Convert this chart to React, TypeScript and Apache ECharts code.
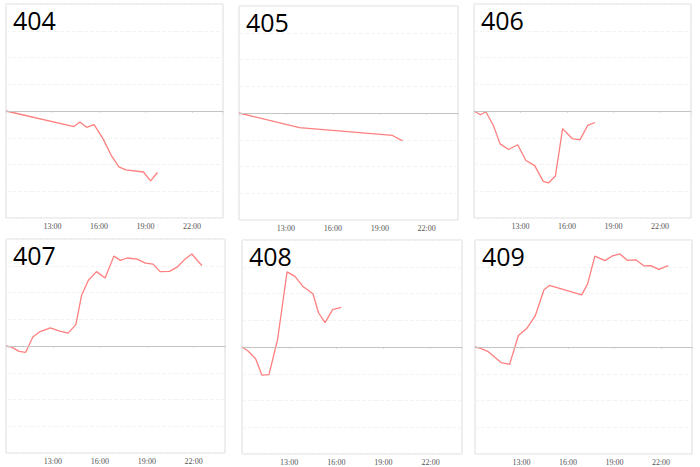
import React, { useEffect, useRef } from "react";
import * as echarts from "echarts";

const panelNames = ["404", "405", "406", "407", "408", "409"];

const times404 = ["10:00", "14:23", "14:46", "15:12", "15:41", "16:17", "16:49", "17:17", "17:44", "18:52", "19:20", "19:46"];
const values404 = [0, -0.58, -0.41, -0.61, -0.51, -1.06, -1.69, -2.09, -2.2, -2.28, -2.61, -2.3];

const times405 = ["10:00", "13:52", "19:49", "20:27"];
const values405 = [0, -0.55, -0.84, -1.04];

const times406 = ["10:00", "10:25", "10:46", "11:15", "11:41", "12:14", "12:49", "13:21", "13:55", "14:28", "14:48", "15:15", "15:43", "16:20", "16:50", "17:20", "17:49"];
const values406 = [0, -0.14, -0.03, -0.54, -1.23, -1.44, -1.26, -1.85, -2.04, -2.63, -2.69, -2.43, -0.66, -1.03, -1.08, -0.54, -0.43];

const times407 = ["10:00", "10:22", "10:50", "11:15", "11:43", "12:11", "12:50", "13:26", "13:58", "14:28", "14:50", "15:16", "15:47", "16:20", "16:54", "17:19", "17:44", "18:23", "18:55", "19:24", "19:51", "20:27", "20:58", "21:26", "21:53", "22:31"];
const values407 = [0, -0.04, -0.2, -0.24, 0.34, 0.54, 0.68, 0.56, 0.48, 0.8, 1.9, 2.46, 2.78, 2.54, 3.36, 3.2, 3.29, 3.25, 3.1, 3.06, 2.78, 2.79, 2.96, 3.24, 3.44, 3.01];

const times408 = ["10:00", "10:23", "10:52", "11:16", "11:43", "12:16", "12:52", "13:22", "13:55", "14:31", "14:52", "15:17", "15:46", "16:19"];
const values408 = [0, -0.15, -0.44, -1.05, -1.03, 0.29, 2.81, 2.64, 2.24, 1.99, 1.28, 0.91, 1.4, 1.48];

const times409 = ["10:00", "10:22", "10:49", "11:41", "12:14", "12:48", "13:20", "13:53", "14:27", "14:48", "16:53", "17:16", "17:44", "18:23", "18:53", "19:21", "19:49", "20:22", "20:55", "21:21", "21:51", "22:28"];
const values409 = [0, -0.05, -0.16, -0.58, -0.65, 0.43, 0.69, 1.16, 2.14, 2.3, 1.95, 2.36, 3.4, 3.23, 3.41, 3.48, 3.24, 3.26, 3.03, 3.04, 2.9, 3.04];

const xTickHours = [10, 13, 16, 19, 22];

const panelTimes = [times404, times405, times406, times407, times408, times409];
const panelValues = [values404, values405, values406, values407, values408, values409];

const grids = [
  { left: 6, top: 4, width: 217, height: 214 },
  { left: 239, top: 6, width: 219, height: 214 },
  { left: 474, top: 4, width: 217, height: 214 },
  { left: 6, top: 239, width: 219, height: 214 },
  { left: 242, top: 240, width: 220, height: 214 },
  { left: 475, top: 240, width: 217, height: 214 },
];

const toHours = (t: string) => {
  const [h, m] = t.split(":").map(Number);
  return h + m / 60;
};

export default function App() {
  const ref = useRef<HTMLDivElement>(null);
  useEffect(() => {
    if (!ref.current) return;
    const chart = echarts.init(ref.current, null, { renderer: "svg" });
    const option: any = {
      animation: false,
      backgroundColor: "#fff",
      title: grids.map((g, i) => ({
        text: panelNames[i],
        left: g.left + 7,
        top: g.top + 3,
        padding: 0,
        textStyle: { fontSize: 25, fontWeight: "normal", color: "#000", fontFamily: "Open Sans" },
      })),
      grid: grids.map((g) => ({
        ...g,
        show: true,
        borderColor: "#dcdcdc",
        borderWidth: 1,
        backgroundColor: "#fff",
      })),
      xAxis: grids.map((_, i) => ({
        type: "value",
        gridIndex: i,
        min: xTickHours[0],
        max: 24,
        interval: 3,
        axisLine: { show: true, lineStyle: { color: "#dcdcdc" } },
        axisTick: { show: true, length: 2, lineStyle: { color: "#dcdcdc" } },
        splitLine: { show: false },
        axisLabel: {
          fontSize: 8,
          color: "#555",
          margin: 4,
          fontFamily: "Liberation Serif",
          formatter: (v: number) => (xTickHours.includes(v) && v !== xTickHours[0] ? `${v}:00` : ""),
        },
      })),
      yAxis: grids.map((_, i) => ({
        type: "value",
        gridIndex: i,
        min: -4,
        max: 4,
        interval: 1,
        axisLine: { show: false },
        axisTick: { show: false },
        axisLabel: { show: false },
        splitLine: { show: true, lineStyle: { color: "#f3f3f3", type: "dashed", width: 1 } },
      })),
      series: panelTimes.map((ts, i) => ({
        type: "line",
        xAxisIndex: i,
        yAxisIndex: i,
        data: ts.map((t, k) => [toHours(t), panelValues[i][k]]),
        showSymbol: false,
        lineStyle: { color: "#ff7f7f", width: 1.3 },
        markLine: {
          silent: true,
          symbol: "none",
          label: { show: false },
          lineStyle: { color: "#c4c4c4", type: "solid", width: 1 },
          data: [{ yAxis: 0 }],
        },
      })),
    };
    chart.setOption(option);
    return () => chart.dispose();
  }, []);
  return (
    <div
      ref={ref}
      style={{ position: "absolute", left: 0, top: 0, width: 700, height: 467 }}
    />
  );
}
